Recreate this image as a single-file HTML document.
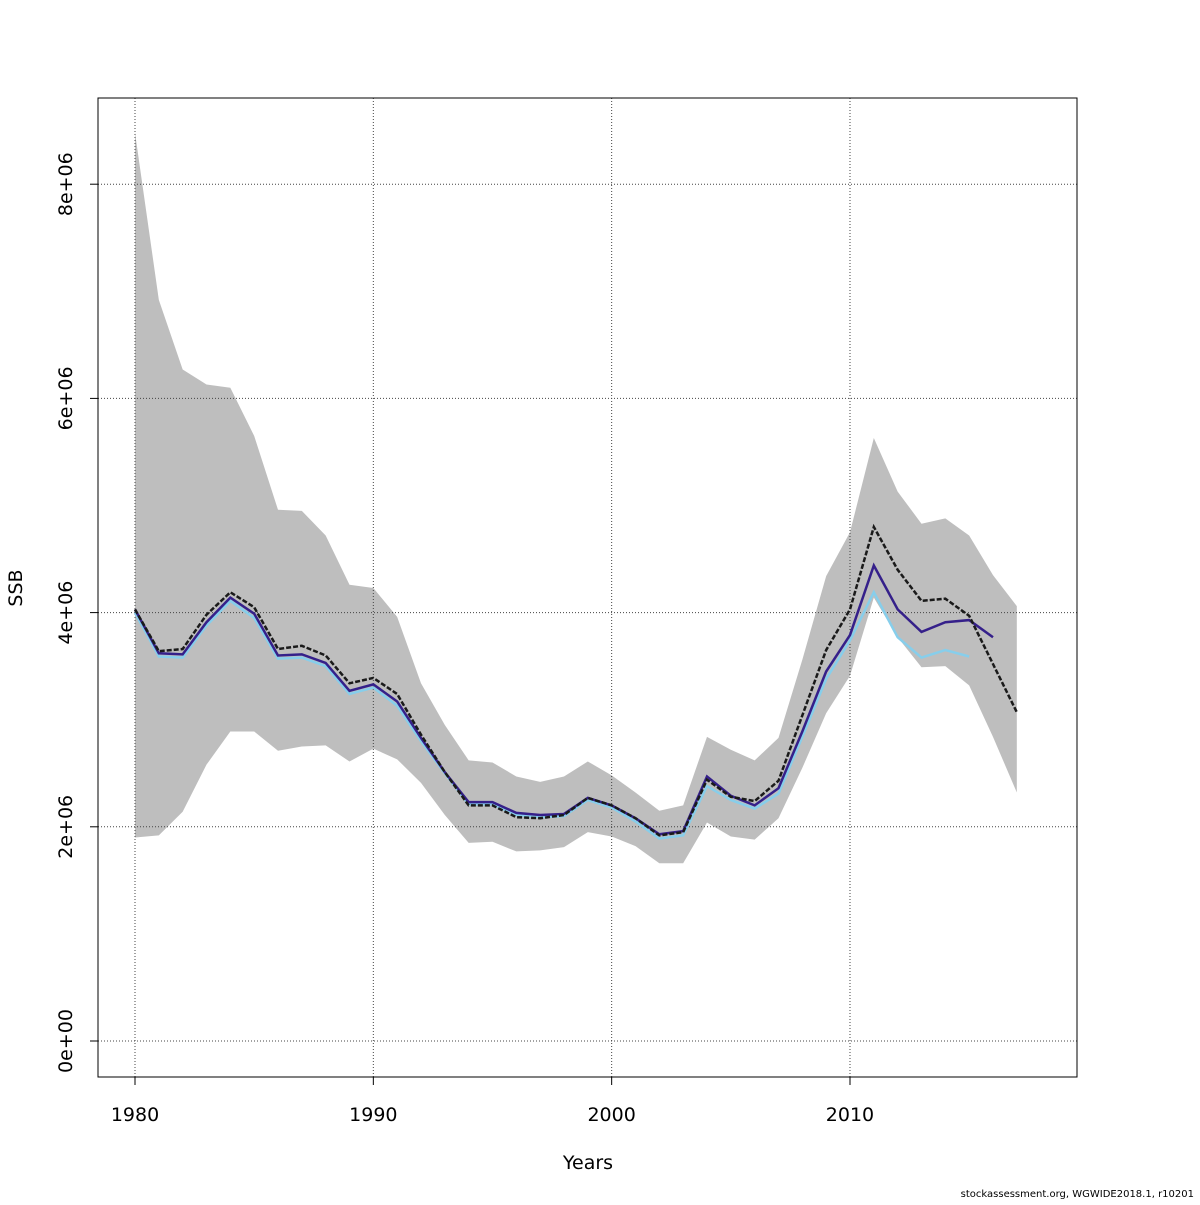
<!DOCTYPE html>
<html><head><meta charset="utf-8"><style>
body{margin:0;background:#fff;}
svg text{font-family:"DejaVu Sans","Liberation Sans",sans-serif;fill:#000;}
</style></head><body>
<svg id="chart" width="1200" height="1200" xmlns="http://www.w3.org/2000/svg"></svg>
<script>
const years=[];for(let y=1980;y<=2017;y++)years.push(y);
const upper=[8.48,6.92,6.27,6.13,6.10,5.65,4.96,4.95,4.72,4.26,4.23,3.96,3.34,2.95,2.62,2.60,2.47,2.42,2.47,2.61,2.48,2.32,2.15,2.20,2.84,2.72,2.62,2.83,3.56,4.34,4.75,5.63,5.13,4.83,4.88,4.72,4.35,4.06];
const lower=[1.90,1.92,2.14,2.58,2.89,2.89,2.71,2.75,2.76,2.61,2.73,2.63,2.41,2.11,1.85,1.86,1.77,1.78,1.81,1.95,1.91,1.82,1.66,1.66,2.04,1.91,1.88,2.08,2.55,3.06,3.41,4.14,3.77,3.49,3.50,3.32,2.84,2.32];
const ssbMain=[4.03,3.64,3.66,3.98,4.19,4.05,3.66,3.69,3.60,3.34,3.39,3.24,2.86,2.51,2.20,2.20,2.09,2.08,2.11,2.27,2.20,2.08,1.92,1.95,2.44,2.28,2.24,2.43,3.04,3.65,4.03,4.80,4.40,4.11,4.13,3.97,3.52,3.07];
const ssbPeel1=[4.03,3.62,3.61,3.91,4.14,3.99,3.60,3.61,3.53,3.27,3.33,3.17,2.83,2.51,2.23,2.23,2.13,2.11,2.12,2.27,2.20,2.08,1.93,1.96,2.47,2.29,2.20,2.36,2.89,3.45,3.79,4.44,4.03,3.82,3.91,3.93,3.77];
const ssbPeel2=[4.00,3.59,3.58,3.88,4.11,3.95,3.57,3.58,3.50,3.24,3.30,3.13,2.80,2.50,2.21,2.21,2.11,2.09,2.10,2.25,2.18,2.05,1.89,1.92,2.38,2.25,2.17,2.31,2.84,3.38,3.74,4.19,3.77,3.58,3.65,3.59];
const xTicks=[1980,1990,2000,2010];
const yTicks=[0,2,4,6,8];
const yTickLabels=["0e+00","2e+06","4e+06","6e+06","8e+06"];
const NS="http://www.w3.org/2000/svg";
const svg=document.getElementById('chart');
const X=y=>135+(y-1980)*23.833;
const Y=v=>1041-v*107.1;
function mk(t,a){const e=document.createElementNS(NS,t);for(const k in a)e.setAttribute(k,a[k]);svg.appendChild(e);return e;}
let pts=years.map((y,i)=>X(y)+','+Y(upper[i]));
for(let i=years.length-1;i>=0;i--)pts.push(X(years[i])+','+Y(lower[i]));
let band=mk('polygon',{points:pts.join(' '),fill:'#bebebe'});


xTicks.forEach(t=>{let g=mk('line',{x1:X(t),x2:X(t),y1:98,y2:1077,stroke:'#444','stroke-width':1,'stroke-dasharray':'1,2'});

});
yTicks.forEach(t=>{let g=mk('line',{x1:98,x2:1077,y1:Y(t),y2:Y(t),stroke:'#444','stroke-width':1,'stroke-dasharray':'1,2'});

});
function line(vals,color,w,name,dash){
 const d=vals.map((v,i)=>(i?'L':'M')+X(years[i])+','+Y(v)).join(' ');
 const a={d:d,fill:'none',stroke:color,'stroke-width':w};if(dash)a['stroke-dasharray']=dash;
 const p=mk('path',a);
 
 
}
line(ssbPeel2,'#87ceeb',2.5,'ssb-retro-2015');
line(ssbPeel1,'#35208a',2.5,'ssb-retro-2016');
line(ssbMain,'#1a1a1a',2.5,'ssb-main','5,2');
let box=mk('rect',{x:98,y:98,width:979,height:979,fill:'none',stroke:'#000','stroke-width':1});


xTicks.forEach(t=>{let l=mk('line',{x1:X(t),x2:X(t),y1:1077,y2:1085,stroke:'#000'});


let tx=mk('text',{x:X(t),y:1121,'text-anchor':'middle','font-size':19});tx.textContent=t;

});
yTicks.forEach((t,i)=>{let l=mk('line',{x1:90,x2:98,y1:Y(t),y2:Y(t),stroke:'#000'});


let tx=mk('text',{x:0,y:0,'text-anchor':'middle','font-size':19,transform:`translate(72,${Y(t)}) rotate(-90)`});tx.textContent=yTickLabels[i];

});
let xt=mk('text',{x:588,y:1169,'text-anchor':'middle','font-size':19});xt.textContent='Years';


let yt=mk('text',{x:0,y:0,'text-anchor':'middle','font-size':19,transform:'translate(22,588) rotate(-90)'});yt.textContent='SSB';


let ft=mk('text',{x:1194,y:1197,'text-anchor':'end','font-size':10});ft.textContent='stockassessment.org, WGWIDE2018.1, r10201';


</script>
</body></html>
